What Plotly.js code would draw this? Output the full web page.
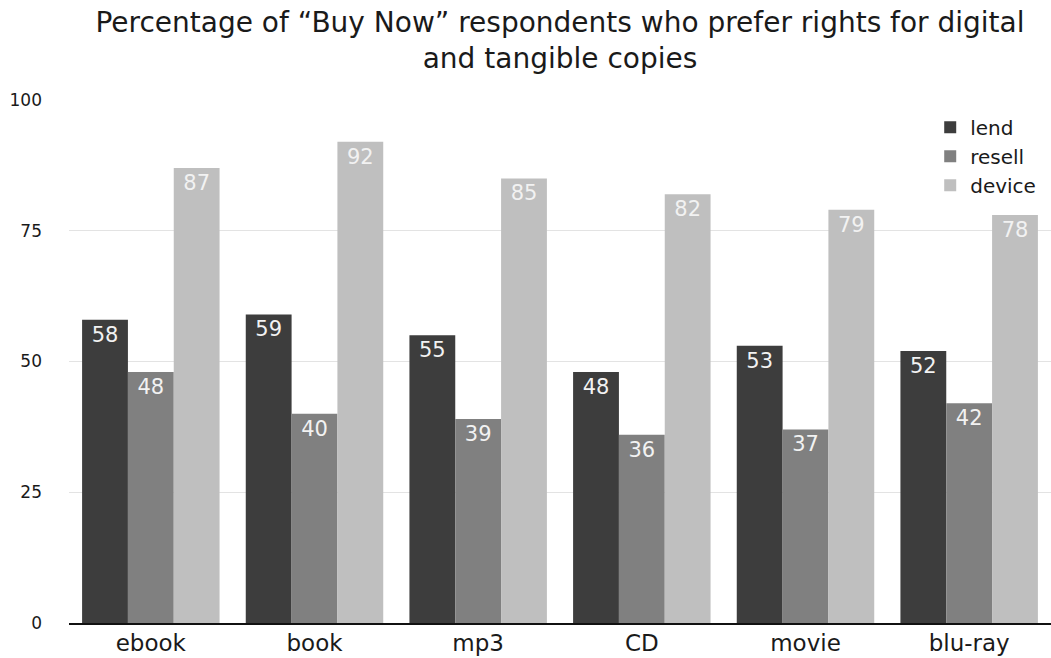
<!DOCTYPE html>
<html><head><meta charset="utf-8">
<script src="https://cdn.plot.ly/plotly-3.0.1.min.js"></script>
<style>html,body{margin:0;padding:0;background:#fff}#chart{width:1051px;height:658px}</style>
</head><body><div id="chart"></div>
<script>
const categories = ["ebook", "book", "mp3", "CD", "movie", "blu-ray"];
const lend = [58, 59, 55, 48, 53, 52];
const resell = [48, 40, 39, 36, 37, 42];
const device = [87, 92, 85, 82, 79, 78];
const seriesNames = ["lend", "resell", "device"];
const seriesColors = ["#3d3d3d", "#808080", "#bfbfbf"];
const yTicks = [0, 25, 50, 75, 100];

const FONT = "DejaVu Sans, Verdana, sans-serif";
const traces = [lend, resell, device].map((vals, i) => ({
  type: "bar", name: seriesNames[i], x: categories, y: vals,
  marker: {color: seriesColors[i], line: {width: 0}},
  text: vals.map(String), textposition: "inside", insidetextanchor: "end",
  textangle: 0, constraintext: "none",
  textfont: {color: "#f2f2f2", size: 21, family: FONT},
  hoverinfo: "none"
}));

const layout = {
  width: 1051, height: 658,
  paper_bgcolor: "#fff", plot_bgcolor: "#fff",
  margin: {l: 69, r: 0, t: 100, b: 35},
  font: {family: FONT, color: "#1a1a1a"},
  title: {
    text: "Percentage of “Buy Now” respondents who prefer rights for digital<br>and tangible copies",
    font: {size: 28, color: "#1a1a1a", family: FONT},
    x: 0.5, xref: "paper", xanchor: "center",
    y: 0.952, yref: "container", yanchor: "top"
  },
  barmode: "group", bargap: 0.16, bargroupgap: 0,
  xaxis: {
    showgrid: false, zeroline: false, showline: true, linecolor: "#111", linewidth: 2,
    ticks: "", tickfont: {size: 23, color: "#1a1a1a"}, fixedrange: true,
    ticklabelstandoff: -2
  },
  yaxis: {
    range: [0, 100], tickvals: yTicks, ticktext: yTicks.map(String),
    showgrid: true, gridcolor: "#e3e3e3", gridwidth: 1, zeroline: false,
    showline: false, ticks: "", tickfont: {size: 17, color: "#1a1a1a"},
    ticklabelstandoff: 26, fixedrange: true
  },
  legend: {
    x: 0.877, xanchor: "left", y: 0.985, yanchor: "top",
    font: {size: 20, color: "#1a1a1a"}, bgcolor: "rgba(0,0,0,0)",
    itemwidth: 30, tracegroupgap: 0, traceorder: "normal"
  },
  showlegend: true
};

Plotly.newPlot("chart", traces, layout, {displayModeBar: false, staticPlot: true});
</script></body></html>
